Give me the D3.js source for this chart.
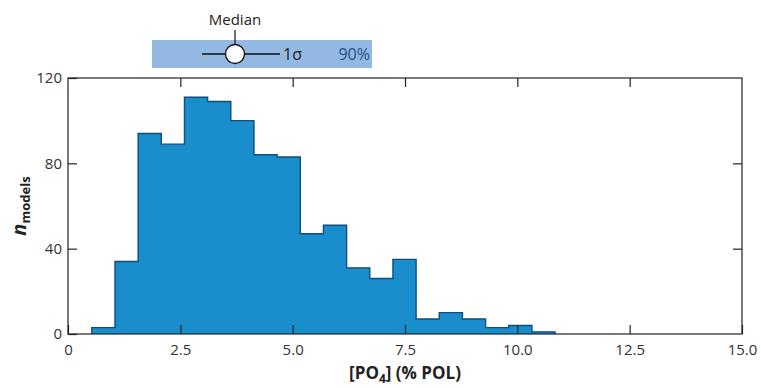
<!DOCTYPE html>
<html>
<head>
<meta charset="utf-8">
<script src="https://cdn.jsdelivr.net/npm/d3@7"></script>
<style>
  body { margin: 0; background: #fff; }
  text { font-family: "Open Sans", "Liberation Sans", sans-serif; }
</style>
</head>
<body>
<div id="chart"></div>
<script>
// histogram of [PO4] across models
const binStart = 0.53;
const binWidth = 0.5155;
const counts = [3, 34, 94, 89, 111, 109, 100, 84, 83, 47, 51, 31, 26, 35, 7, 10, 7, 3, 4, 1];
const xTicks = [0, 2.5, 5, 7.5, 10, 12.5, 15];
const xTickLabels = ["0", "2.5", "5.0", "7.5", "10.0", "12.5", "15.0"];
const yTicks = [0, 40, 80, 120];

const width = 761, height = 388;
const margin = { top: 78, right: 19, bottom: 54, left: 68 };

const svg = d3.select("#chart").append("svg")
  .attr("width", width)
  .attr("height", height);

const x = d3.scaleLinear().domain([0, 15]).range([margin.left, width - margin.right]);
const y = d3.scaleLinear().domain([0, 120]).range([height - margin.bottom, margin.top]);

// step outline: one point per bin edge, closing at the last edge
const steps = counts.map((c, i) => ({ e: binStart + i * binWidth, n: c }));
steps.push({ e: binStart + counts.length * binWidth, n: counts[counts.length - 1] });

const area = d3.area()
  .curve(d3.curveStepAfter)
  .x(d => x(d.e))
  .y0(y(0))
  .y1(d => y(d.n));

svg.append("path")
  .datum(steps)
  .attr("d", area)
  .attr("fill", "#1a8dcd");

const outline = [{ e: binStart, n: 0 }, ...steps, { e: steps[steps.length - 1].e, n: 0 }];
svg.append("path")
  .datum(outline)
  .attr("d", d3.line().curve(d3.curveStepAfter).x(d => x(d.e)).y(d => y(d.n)))
  .attr("fill", "none")
  .attr("stroke", "#0f4e78")
  .attr("stroke-width", 1.4);

// axes, ticks inward on all four sides
const tickLen = 9;
const styleAxis = g => {
  g.select(".domain").remove();
  g.selectAll(".tick line").attr("stroke", "#222").attr("stroke-width", 1.2);
  g.selectAll(".tick text").attr("fill", "#333").style("font-size", "15px");
};

svg.append("g")
  .attr("transform", `translate(0,${y(0)})`)
  .call(d3.axisBottom(x).tickValues(xTicks).tickFormat((d, i) => xTickLabels[i]).tickSizeInner(-tickLen).tickPadding(10))
  .call(styleAxis);

svg.append("g")
  .attr("transform", `translate(0,${y(120)})`)
  .call(d3.axisTop(x).tickValues(xTicks.slice(1, -1)).tickFormat("").tickSizeInner(-tickLen))
  .call(styleAxis);

svg.append("g")
  .attr("transform", `translate(${x(0)},0)`)
  .call(d3.axisLeft(y).tickValues(yTicks).tickFormat(d3.format("d")).tickSizeInner(-tickLen).tickPadding(6))
  .call(styleAxis);

svg.append("g")
  .attr("transform", `translate(${x(15)},0)`)
  .call(d3.axisRight(y).tickValues(yTicks.slice(1, -1)).tickFormat("").tickSizeInner(-tickLen))
  .call(styleAxis);

// frame
svg.append("rect")
  .attr("x", x(0))
  .attr("y", y(120))
  .attr("width", x(15) - x(0))
  .attr("height", y(0) - y(120))
  .attr("fill", "none")
  .attr("stroke", "#222")
  .attr("stroke-width", 1.2);

// axis titles
const xt = svg.append("text")
  .attr("x", (x(0) + x(15)) / 2)
  .attr("y", 379)
  .attr("text-anchor", "middle")
  .attr("fill", "#222")
  .style("font-size", "17px")
  .style("font-weight", "bold");
xt.append("tspan").text("[PO");
xt.append("tspan").text("4").attr("dy", 4).style("font-size", "12px");
xt.append("tspan").text("] (% POL)").attr("dy", -4);

const yt = svg.append("text")
  .attr("transform", `translate(26,${(y(0) + y(120)) / 2}) rotate(-90)`)
  .attr("text-anchor", "middle")
  .attr("fill", "#222")
  .style("font-weight", "bold");
yt.append("tspan").text("n").style("font-size", "20px").style("font-style", "italic");
yt.append("tspan").text("models").attr("dy", 4).style("font-size", "13px");

// legend key
const leg = svg.append("g");
leg.append("rect")
  .attr("x", 152).attr("y", 40).attr("width", 220).attr("height", 28)
  .attr("fill", "#93b9e3");
leg.append("line")
  .attr("x1", 202).attr("x2", 280).attr("y1", 54).attr("y2", 54)
  .attr("stroke", "#111").attr("stroke-width", 1.5);
leg.append("line")
  .attr("x1", 235).attr("x2", 235).attr("y1", 30).attr("y2", 45)
  .attr("stroke", "#111").attr("stroke-width", 1.2);
leg.append("circle")
  .attr("cx", 235).attr("cy", 54).attr("r", 9.5)
  .attr("fill", "#fff").attr("stroke", "#111").attr("stroke-width", 1.3);
leg.append("text")
  .attr("x", 235).attr("y", 25)
  .attr("text-anchor", "middle")
  .attr("fill", "#222")
  .style("font-size", "15px")
  .text("Median");
leg.append("text")
  .attr("x", 283).attr("y", 60)
  .attr("fill", "#222")
  .style("font-size", "16px")
  .text("1σ");
leg.append("text")
  .attr("x", 370).attr("y", 60)
  .attr("text-anchor", "end")
  .attr("fill", "#1d4f86")
  .style("font-size", "16px")
  .text("90%");
</script>
</body>
</html>
